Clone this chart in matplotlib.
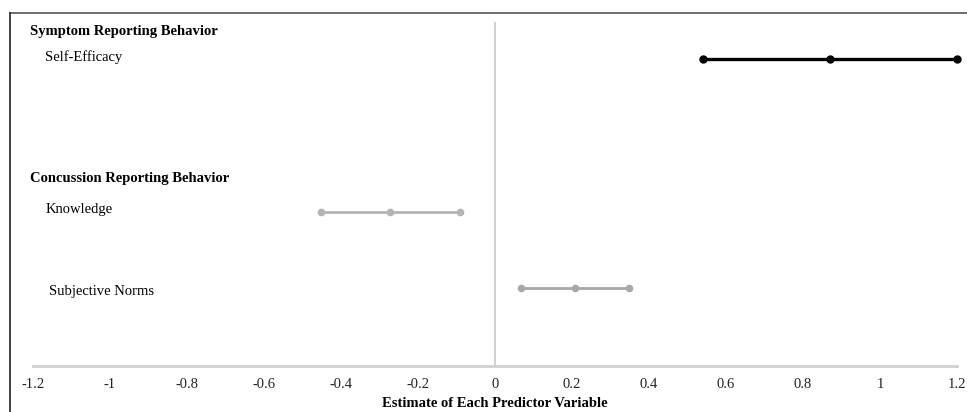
import matplotlib.pyplot as plt
from matplotlib.lines import Line2D

# Datos
predictores = ['Self-Efficacy', 'Knowledge', 'Subjective Norms']
limite_inferior = [0.54, -0.452, 0.068]
estimacion = [0.87, -0.273, 0.208]
limite_superior = [1.2, -0.091, 0.348]
colores = ['#000000', '#b4b4b4', '#a8a8a8']
ticks_x = [-1.2, -1, -0.8, -0.6, -0.4, -0.2, 0, 0.2, 0.4, 0.6, 0.8, 1, 1.2]

# posiciones verticales de cada fila (fracción del eje)
fila_y = [0.892, 0.448, 0.227]

plt.rcParams['font.family'] = ['Liberation Serif', 'DejaVu Serif']

W, H = 967, 412
fig = plt.figure(figsize=(W / 100, H / 100), dpi=100)
ax = fig.add_axes([33 / W, 1 - 366 / H, (957 - 33) / W, (366 - 22) / H])

for i, nombre in enumerate(predictores):
    xs = [limite_inferior[i], estimacion[i], limite_superior[i]]
    ys = [fila_y[i]] * 3
    lw = 2.4 if i == 0 else 2.0
    ms = 5 if i == 0 else 4.5
    ax.plot(xs, ys, color=colores[i], lw=lw, marker='o', ms=ms,
            solid_capstyle='round', clip_on=False, zorder=3)

ax.axvline(0, color='#c8c8c8', lw=1.2, zorder=1)
ax.set_xlim(-1.2, 1.2)
ax.set_ylim(0, 1)
ax.set_xticks(ticks_x)
ax.set_xticklabels([f'{t:g}' for t in ticks_x], fontsize=10.5)
ax.tick_params(axis='x', length=0, pad=9, colors='#222222')
ax.set_yticks([])
for lado in ['top', 'right', 'left']:
    ax.spines[lado].set_visible(False)
ax.spines['bottom'].set_color('#d0d0d0')
ax.spines['bottom'].set_linewidth(2)
ax.set_xlabel('Estimate of Each Predictor Variable', fontsize=10.5,
              fontweight='bold', labelpad=4)

# etiquetas a la izquierda
fig.text(30 / W, 1 - 32 / H, 'Symptom Reporting Behavior', fontsize=10.5,
         fontweight='bold', va='center', ha='left')
fig.text(30 / W, 1 - 179 / H, 'Concussion Reporting Behavior', fontsize=10.5,
         fontweight='bold', va='center', ha='left')
fig.text(45 / W, 1 - 57 / H, 'Self-Efficacy', fontsize=10.5, va='center')
fig.text(46 / W, 1 - 209 / H, 'Knowledge', fontsize=10.5, va='center')
fig.text(49 / W, 1 - 291 / H, 'Subjective Norms', fontsize=10.5, va='center')

# marco de la figura (recortado a derecha y abajo)
fig.add_artist(Line2D([10 / W, 1], [1 - 13 / H, 1 - 13 / H], color='#555555',
                      lw=1.2, transform=fig.transFigure))
fig.add_artist(Line2D([10 / W, 10 / W], [0, 1 - 13 / H], color='#222222',
                      lw=1.2, transform=fig.transFigure))

fig.savefig('out.png', dpi=100)
